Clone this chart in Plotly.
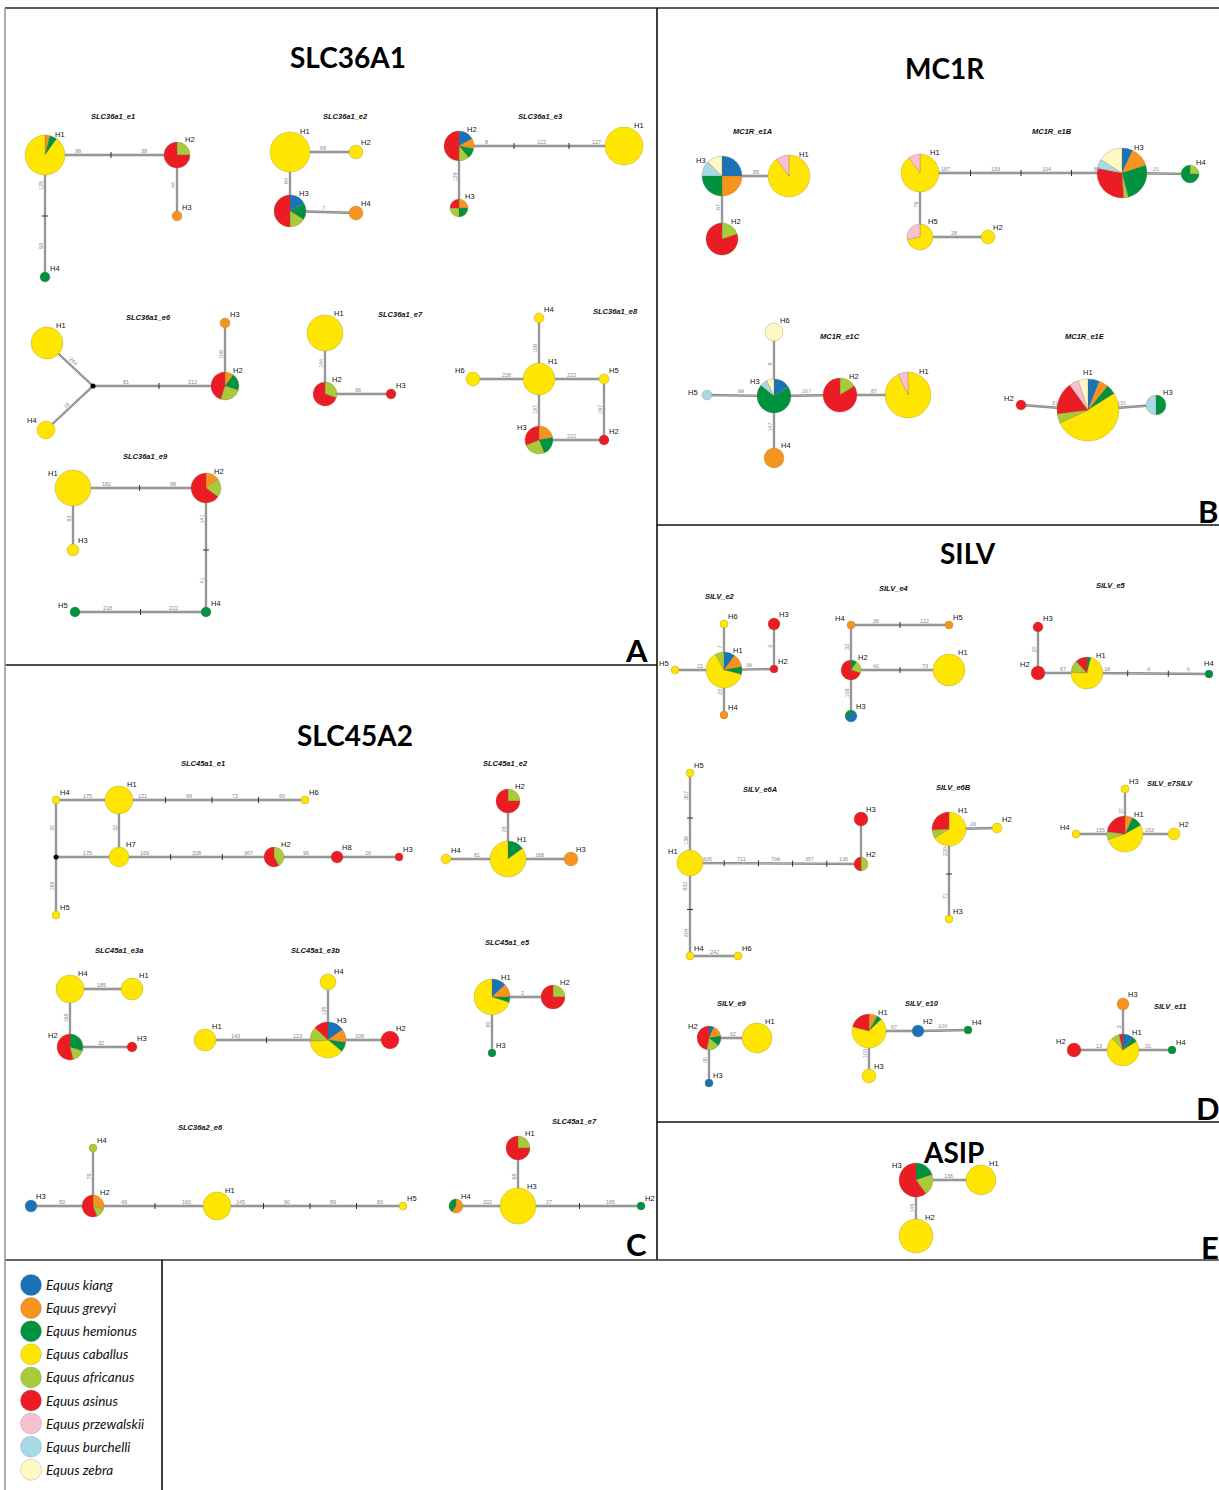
import math
import plotly.graph_objects as go

W, H = 1219, 1490

# ---------------- species ----------------
SPECIES_CODES = ["K", "G", "M", "C", "A", "S", "P", "B", "Z"]
SPECIES_NAMES = ["Equus kiang", "Equus grevyi", "Equus hemionus", "Equus caballus",
                 "Equus africanus", "Equus asinus", "Equus przewalskii",
                 "Equus burchelli", "Equus zebra"]
SPECIES_COLORS = ["#1a72b9", "#f7941d", "#00933f", "#ffe600", "#a8cb3a",
                  "#ec1c24", "#f8bfd1", "#a6dae6", "#fff7c4"]

# ---------------- haplotype compositions (clockwise from 12 o'clock) ----------------
SLC36A1_E1_COMP = {"H1": [("G", .04), ("M", .06), ("C", .90)], "H2": [("A", .25), ("S", .75)],
                   "H3": [("G", 1)], "H4": [("M", 1)]}
SLC36A1_E1_EDGES = [("H1", "H2", ["98", "38"]), ("H2", "H3", ["44"]), ("H1", "H4", ["125", "93"])]

SLC36A1_E2_COMP = {"H1": [("C", 1)], "H2": [("C", 1)],
                   "H3": [("K", .17), ("M", .17), ("A", .16), ("S", .50)], "H4": [("G", 1)]}
SLC36A1_E2_EDGES = [("H1", "H2", ["69"]), ("H1", "H3", ["64"]), ("H3", "H4", ["7"])]

SLC36A1_E3_COMP = {"H1": [("C", 1)], "H2": [("K", .17), ("G", .11), ("M", .11), ("A", .11), ("S", .50)],
                   "H3": [("G", .25), ("M", .25), ("A", .25), ("S", .25)]}
SLC36A1_E3_EDGES = [("H2", "H1", ["8", "122", "127"]), ("H2", "H3", ["129"])]

SLC36A1_E6_COMP = {"H1": [("C", 1)], "H2": [("G", .10), ("M", .20), ("A", .25), ("S", .45)],
                   "H3": [("G", 1)], "H4": [("C", 1)]}
SLC36A1_E6_EDGES = [("H1", "J", ["264"]), ("H4", "J", ["16"]), ("J", "H2", ["81", "212"]), ("H2", "H3", ["106"])]

SLC36A1_E7_COMP = {"H1": [("C", 1)], "H2": [("A", .30), ("S", .70)], "H3": [("S", 1)]}
SLC36A1_E7_EDGES = [("H1", "H2", ["144"]), ("H2", "H3", ["96"])]

SLC36A1_E8_COMP = {"H1": [("C", 1)], "H2": [("S", 1)], "H3": [("G", .22), ("M", .22), ("A", .25), ("S", .31)],
                   "H4": [("C", 1)], "H5": [("C", 1)], "H6": [("C", 1)]}
SLC36A1_E8_EDGES = [("H1", "H4", ["108"]), ("H6", "H1", ["228"]), ("H1", "H5", ["222"]),
                    ("H5", "H2", ["197"]), ("H1", "H3", ["197"]), ("H3", "H2", ["222"])]

SLC36A1_E9_COMP = {"H1": [("C", 1)], "H2": [("G", .15), ("A", .20), ("S", .65)], "H3": [("C", 1)],
                   "H4": [("M", 1)], "H5": [("M", 1)]}
SLC36A1_E9_EDGES = [("H1", "H2", ["182", "98"]), ("H1", "H3", ["83"]), ("H2", "H4", ["141", "41"]),
                    ("H5", "H4", ["218", "222"])]

MC1R_E1A_COMP = {"H1": [("C", .90), ("P", .10)], "H2": [("A", .20), ("S", .80)],
                 "H3": [("K", .25), ("G", .25), ("M", .25), ("B", .125), ("Z", .125)]}
MC1R_E1A_EDGES = [("H3", "H1", ["85"]), ("H3", "H2", ["67"])]

MC1R_E1B_COMP = {"H1": [("C", .90), ("P", .10)], "H2": [("C", 1)],
                 "H3": [("K", .07), ("G", .13), ("M", .26), ("A", .03), ("S", .29), ("B", .06), ("Z", .16)],
                 "H4": [("A", .25), ("M", .75)], "H5": [("C", .72), ("P", .28)]}
MC1R_E1B_EDGES = [("H1", "H3", ["187", "133", "104", "81"]), ("H3", "H4", ["21"]),
                  ("H1", "H5", ["76"]), ("H5", "H2", ["28"])]

MC1R_E1C_COMP = {"H1": [("C", .93), ("P", .07)], "H2": [("A", .16), ("S", .84)],
                 "H3": [("K", .16), ("M", .70), ("B", .07), ("Z", .07)],
                 "H4": [("G", 1)], "H5": [("B", 1)], "H6": [("Z", 1)]}
MC1R_E1C_EDGES = [("H6", "H3", ["8"]), ("H5", "H3", ["88"]), ("H3", "H2", ["167"]),
                  ("H2", "H1", ["87"]), ("H3", "H4", ["147"])]

MC1R_E1E_COMP = {"H1": [("K", .06), ("G", .05), ("M", .05), ("C", .52), ("A", .05), ("S", .17),
                        ("P", .05), ("Z", .05)],
                 "H2": [("S", 1)], "H3": [("M", .50), ("B", .50)]}
MC1R_E1E_EDGES = [("H2", "H1", ["31"]), ("H1", "H3", ["131"])]

SILV_E2_COMP = {"H1": [("K", .10), ("G", .12), ("M", .07), ("C", .63), ("A", .08)], "H2": [("S", 1)],
                "H3": [("S", 1)], "H4": [("G", 1)], "H5": [("C", 1)], "H6": [("C", 1)]}
SILV_E2_EDGES = [("H6", "H1", ["7"]), ("H5", "H1", ["22"]), ("H1", "H2", ["38"]),
                 ("H2", "H3", ["3"]), ("H1", "H4", ["23"])]

SILV_E4_COMP = {"H1": [("C", 1)], "H2": [("M", .10), ("A", .20), ("S", .70)], "H3": [("K", .75), ("M", .25)],
                "H4": [("G", 1)], "H5": [("G", 1)]}
SILV_E4_EDGES = [("H4", "H5", ["36", "122"]), ("H4", "H2", ["32"]), ("H2", "H1", ["41", "73"]),
                 ("H2", "H3", ["108"])]

SILV_E5_COMP = {"H1": [("M", .04), ("C", .72), ("A", .12), ("S", .12)], "H2": [("S", 1)],
                "H3": [("S", 1)], "H4": [("M", 1)]}
SILV_E5_EDGES = [("H3", "H2", ["20"]), ("H2", "H1", ["67"]), ("H1", "H4", ["18", "4", "6"])]

SILV_E6A_COMP = {"H1": [("C", 1)], "H2": [("A", .50), ("S", .50)], "H3": [("S", 1)],
                 "H4": [("C", 1)], "H5": [("C", 1)], "H6": [("C", 1)]}
SILV_E6A_EDGES = [("H5", "H1", ["307", "136"]), ("H1", "H2", ["835", "711", "798", "357", "135"]),
                  ("H3", "H2", []), ("H1", "H4", ["832", "204"]), ("H4", "H6", ["242"])]

SILV_E6B_COMP = {"H1": [("C", .66), ("A", .08), ("S", .26)], "H2": [("C", 1)], "H3": [("C", 1)]}
SILV_E6B_EDGES = [("H1", "H2", ["28"]), ("H1", "H3", ["220", "71"])]

SILV_E7_COMP = {"H1": [("G", .07), ("M", .10), ("C", .53), ("A", .07), ("S", .23)],
                "H2": [("C", 1)], "H3": [("C", 1)], "H4": [("C", 1)]}
SILV_E7_EDGES = [("H3", "H1", ["37"]), ("H4", "H1", ["155"]), ("H1", "H2", ["153"])]

SILV_E9_COMP = {"H1": [("C", 1)], "H2": [("K", .07), ("G", .15), ("M", .14), ("A", .17), ("S", .47)],
                "H3": [("K", 1)]}
SILV_E9_EDGES = [("H2", "H1", ["62"]), ("H2", "H3", ["30"])]

SILV_E10_COMP = {"H1": [("G", .08), ("M", .05), ("C", .66), ("S", .21)], "H2": [("K", 1)],
                 "H3": [("C", 1)], "H4": [("M", 1)]}
SILV_E10_EDGES = [("H1", "H2", ["67"]), ("H2", "H4", ["100"]), ("H1", "H3", ["103"])]

SILV_E11_COMP = {"H1": [("K", .10), ("M", .06), ("C", .72), ("A", .08), ("S", .04)], "H2": [("S", 1)],
                 "H3": [("G", 1)], "H4": [("M", 1)]}
SILV_E11_EDGES = [("H3", "H1", ["3"]), ("H2", "H1", ["13"]), ("H1", "H4", ["31"])]

ASIP_COMP = {"H1": [("C", 1)], "H2": [("C", 1)], "H3": [("M", .20), ("A", .20), ("S", .60)]}
ASIP_EDGES = [("H3", "H1", ["136"]), ("H3", "H2", ["145"])]

SLC45A1_E1_COMP = {"H1": [("C", 1)], "H2": [("A", .42), ("S", .58)], "H3": [("S", 1)], "H4": [("C", 1)],
                   "H5": [("C", 1)], "H6": [("C", 1)], "H7": [("C", 1)], "H8": [("S", 1)]}
SLC45A1_E1_EDGES = [("H4", "H1", ["175"]), ("H1", "H6", ["121", "99", "72", "60"]), ("H4", "J", ["32"]),
                    ("H1", "H7", ["32"]), ("J", "H7", ["175"]), ("H7", "H2", ["169", "328", "367"]),
                    ("H2", "H8", ["96"]), ("H8", "H3", ["26"]), ("J", "H5", ["165"])]

SLC45A1_E2_COMP = {"H1": [("M", .15), ("C", .85)], "H2": [("A", .25), ("S", .75)], "H3": [("G", 1)],
                   "H4": [("C", 1)]}
SLC45A1_E2_EDGES = [("H2", "H1", ["28"]), ("H4", "H1", ["81"]), ("H1", "H3", ["168"])]

SLC45A1_E3A_COMP = {"H1": [("C", 1)], "H2": [("M", .30), ("A", .16), ("S", .54)], "H3": [("S", 1)],
                    "H4": [("C", 1)]}
SLC45A1_E3A_EDGES = [("H4", "H1", ["185"]), ("H4", "H2", ["168"]), ("H2", "H3", ["32"])]

SLC45A1_E3B_COMP = {"H1": [("C", 1)], "H2": [("S", 1)],
                    "H3": [("K", .15), ("G", .12), ("M", .09), ("C", .38), ("A", .13), ("S", .13)],
                    "H4": [("C", 1)]}
SLC45A1_E3B_EDGES = [("H4", "H3", ["135"]), ("H1", "H3", ["143", "123"]), ("H3", "H2", ["108"])]

SLC45A1_E5_COMP = {"H1": [("K", .13), ("G", .12), ("M", .05), ("C", .70)], "H2": [("A", .25), ("S", .75)],
                   "H3": [("M", 1)]}
SLC45A1_E5_EDGES = [("H1", "H2", ["2"]), ("H1", "H3", ["80"])]

SLC36A2_E6_COMP = {"H1": [("C", 1)], "H2": [("G", .30), ("A", .14), ("S", .56)], "H3": [("K", 1)],
                   "H4": [("A", 1)], "H5": [("C", 1)]}
SLC36A2_E6_EDGES = [("H3", "H2", ["50"]), ("H4", "H2", ["79"]), ("H2", "H1", ["49", "160"]),
                    ("H1", "H5", ["145", "90", "89", "83"])]

SLC45A1_E7_COMP = {"H1": [("A", .25), ("S", .75)], "H2": [("M", 1)], "H3": [("C", 1)],
                   "H4": [("G", .60), ("M", .40)]}
SLC45A1_E7_EDGES = [("H1", "H3", ["68"]), ("H4", "H3", ["202"]), ("H3", "H2", ["27", "165"])]

# ---------------- layout (pixel positions: x, y, radius, label side) ----------------
LAYOUT = {
    "SLC36a1_e1": ((113, 116), {"H1": (45, 155, 20, "ne"), "H2": (177, 155, 13, "ne"),
                                "H3": (177, 216, 5, "ne"), "H4": (45, 277, 5, "ne")}),
    "SLC36a1_e2": ((345, 116), {"H1": (290, 152, 20, "ne"), "H2": (356, 152, 7, "ne"),
                                "H3": (290, 211, 16, "ne"), "H4": (356, 213, 7, "ne")}),
    "SLC36a1_e3": ((540, 116), {"H2": (459, 146, 15, "ne"), "H1": (624, 146, 19, "ne"),
                                "H3": (459, 208, 9, "ne")}),
    "SLC36a1_e6": ((148, 317), {"H1": (47, 343, 16, "ne"), "H4": (46, 430, 9, "nw"), "J": (93, 386, 0, ""),
                                "H2": (225, 386, 14, "ne"), "H3": (225, 323, 5, "ne")}),
    "SLC36a1_e7": ((400, 314), {"H1": (325, 333, 18, "ne"), "H2": (325, 394, 12, "ne"),
                                "H3": (391, 394, 5, "ne")}),
    "SLC36a1_e8": ((615, 311), {"H1": (539, 379, 16, "ne"), "H4": (539, 318, 5, "ne"), "H6": (473, 379, 7, "nw"),
                                "H5": (604, 379, 5, "ne"), "H3": (539, 440, 14, "nw"), "H2": (604, 440, 5, "ne")}),
    "SLC36a1_e9": ((145, 456), {"H1": (73, 488, 18, "nw"), "H2": (206, 488, 15, "ne"), "H3": (73, 550, 6, "ne"),
                                "H4": (206, 612, 5, "ne"), "H5": (75, 612, 5, "nw")}),
    "MC1R_e1A": ((752, 131), {"H3": (722, 176, 20, "nw"), "H1": (789, 176, 21, "ne"), "H2": (722, 239, 16, "ne")}),
    "MC1R_e1B": ((1052, 131), {"H1": (920, 173, 19, "ne"), "H3": (1122, 173, 25, "ne"), "H4": (1190, 174, 9, "ne"),
                               "H5": (920, 237, 13, "ne"), "H2": (988, 237, 7, "ne")}),
    "MC1R_e1C": ((840, 336), {"H6": (774, 332, 9, "ne"), "H3": (774, 396, 17, "nw"), "H5": (707, 395, 5, "w"),
                              "H4": (774, 458, 10, "ne"), "H2": (840, 395, 17, "ne"), "H1": (908, 395, 23, "ne")}),
    "MC1R_e1E": ((1085, 336), {"H1": (1088, 410, 31, "n"), "H2": (1021, 405, 5, "nw"), "H3": (1156, 405, 10, "ne")}),
    "SILV_e2": ((720, 596), {"H1": (724, 670, 18, "ne"), "H6": (724, 624, 4, "ne"), "H5": (675, 670, 4, "nw"),
                             "H4": (724, 715, 4, "ne"), "H2": (774, 669, 4, "ne"), "H3": (774, 624, 6, "ne")}),
    "SILV_e4": ((894, 588), {"H4": (851, 625, 4, "nw"), "H5": (949, 625, 4, "ne"), "H2": (851, 670, 10, "ne"),
                             "H1": (949, 670, 16, "ne"), "H3": (851, 716, 6, "ne")}),
    "SILV_e5": ((1111, 585), {"H3": (1038, 627, 5, "ne"), "H2": (1038, 673, 7, "nw"), "H1": (1087, 673, 16, "ne"),
                              "H4": (1209, 674, 4, "n")}),
    "SILV_e6A": ((760, 789), {"H1": (690, 863, 13, "nw"), "H5": (690, 773, 4, "ne"), "H3": (861, 819, 7, "ne"),
                              "H2": (861, 864, 7, "ne"), "H4": (690, 956, 4, "ne"), "H6": (738, 956, 4, "ne")}),
    "SILV_e6B": ((953, 787), {"H1": (949, 829, 17, "ne"), "H2": (997, 828, 5, "ne"), "H3": (949, 919, 4, "ne")}),
    "SILV_e7SILV": ((1170, 783), {"H1": (1125, 834, 18, "ne"), "H3": (1125, 789, 4, "ne"), "H4": (1076, 834, 4, "nw"),
                                  "H2": (1174, 834, 6, "ne")}),
    "SILV_e9": ((732, 1003), {"H2": (709, 1038, 12, "nw"), "H1": (757, 1038, 15, "ne"), "H3": (709, 1083, 4, "ne")}),
    "SILV_e10": ((922, 1003), {"H1": (869, 1031, 17, "ne"), "H2": (918, 1031, 6, "ne"), "H4": (968, 1030, 4, "ne"),
                               "H3": (869, 1076, 7, "ne")}),
    "SILV_e11": ((1170, 1006), {"H3": (1123, 1004, 6, "ne"), "H1": (1123, 1050, 16, "ne"), "H2": (1074, 1050, 7, "nw"),
                                "H4": (1172, 1050, 4, "ne")}),
    "ASIP": (None, {"H3": (916, 1180, 17, "nw"), "H1": (981, 1180, 15, "ne"), "H2": (916, 1236, 17, "ne")}),
    "SLC45a1_e1": ((203, 763), {"H4": (56, 800, 4, "ne"), "H1": (119, 800, 14, "ne"), "H6": (305, 800, 4, "ne"),
                                "J": (56, 857, 0, ""), "H7": (119, 857, 10, "ne"), "H2": (274, 857, 10, "ne"),
                                "H8": (337, 857, 6, "ne"), "H3": (399, 857, 4, "ne"), "H5": (56, 915, 4, "ne")}),
    "SLC45a1_e2": ((505, 763), {"H2": (508, 801, 12, "ne"), "H1": (508, 859, 18, "ne"), "H4": (446, 859, 5, "ne"),
                                "H3": (571, 859, 7, "ne")}),
    "SLC45a1_e3a": ((119, 950), {"H4": (70, 989, 14, "ne"), "H1": (132, 989, 11, "ne"), "H2": (70, 1047, 13, "nw"),
                                 "H3": (132, 1047, 5, "ne")}),
    "SLC45a1_e3b": ((315, 950), {"H4": (328, 982, 8, "ne"), "H3": (328, 1040, 18, "ne"), "H1": (205, 1040, 11, "ne"),
                                 "H2": (390, 1040, 9, "ne")}),
    "SLC45a1_e5": ((507, 942), {"H1": (492, 997, 18, "ne"), "H2": (553, 997, 12, "ne"), "H3": (492, 1053, 4, "ne")}),
    "SLC36a2_e6": ((200, 1127), {"H3": (31, 1206, 6, "ne"), "H2": (93, 1206, 11, "ne"), "H4": (93, 1148, 4, "ne"),
                                 "H1": (217, 1206, 14, "ne"), "H5": (403, 1206, 4, "ne")}),
    "SLC45a1_e7": ((574, 1121), {"H1": (518, 1148, 12, "ne"), "H3": (518, 1206, 18, "ne"), "H4": (456, 1206, 7, "ne"),
                                 "H2": (641, 1206, 4, "ne")}),
}

NETWORKS = [
    ("SLC36a1_e1", SLC36A1_E1_COMP, SLC36A1_E1_EDGES), ("SLC36a1_e2", SLC36A1_E2_COMP, SLC36A1_E2_EDGES),
    ("SLC36a1_e3", SLC36A1_E3_COMP, SLC36A1_E3_EDGES), ("SLC36a1_e6", SLC36A1_E6_COMP, SLC36A1_E6_EDGES),
    ("SLC36a1_e7", SLC36A1_E7_COMP, SLC36A1_E7_EDGES), ("SLC36a1_e8", SLC36A1_E8_COMP, SLC36A1_E8_EDGES),
    ("SLC36a1_e9", SLC36A1_E9_COMP, SLC36A1_E9_EDGES),
    ("MC1R_e1A", MC1R_E1A_COMP, MC1R_E1A_EDGES), ("MC1R_e1B", MC1R_E1B_COMP, MC1R_E1B_EDGES),
    ("MC1R_e1C", MC1R_E1C_COMP, MC1R_E1C_EDGES), ("MC1R_e1E", MC1R_E1E_COMP, MC1R_E1E_EDGES),
    ("SILV_e2", SILV_E2_COMP, SILV_E2_EDGES), ("SILV_e4", SILV_E4_COMP, SILV_E4_EDGES),
    ("SILV_e5", SILV_E5_COMP, SILV_E5_EDGES), ("SILV_e6A", SILV_E6A_COMP, SILV_E6A_EDGES),
    ("SILV_e6B", SILV_E6B_COMP, SILV_E6B_EDGES), ("SILV_e7SILV", SILV_E7_COMP, SILV_E7_EDGES),
    ("SILV_e9", SILV_E9_COMP, SILV_E9_EDGES), ("SILV_e10", SILV_E10_COMP, SILV_E10_EDGES),
    ("SILV_e11", SILV_E11_COMP, SILV_E11_EDGES), ("ASIP", ASIP_COMP, ASIP_EDGES),
    ("SLC45a1_e1", SLC45A1_E1_COMP, SLC45A1_E1_EDGES), ("SLC45a1_e2", SLC45A1_E2_COMP, SLC45A1_E2_EDGES),
    ("SLC45a1_e3a", SLC45A1_E3A_COMP, SLC45A1_E3A_EDGES), ("SLC45a1_e3b", SLC45A1_E3B_COMP, SLC45A1_E3B_EDGES),
    ("SLC45a1_e5", SLC45A1_E5_COMP, SLC45A1_E5_EDGES), ("SLC36a2_e6", SLC36A2_E6_COMP, SLC36A2_E6_EDGES),
    ("SLC45a1_e7", SLC45A1_E7_COMP, SLC45A1_E7_EDGES),
]

GENE_TITLES = [("SLC36A1", 348, 57), ("MC1R", 945, 68), ("SILV", 968, 553), ("SLC45A2", 355, 735), ("ASIP", 953, 1152)]
PANEL_LETTERS = [("A", 636, 650), ("B", 1208, 511), ("C", 636, 1244), ("D", 1208, 1108), ("E", 1210, 1247)]

# ---------------- build figure ----------------
COLOR = dict(zip(SPECIES_CODES, SPECIES_COLORS))
NAME = dict(zip(SPECIES_CODES, SPECIES_NAMES))

fig = go.Figure()
ann = []

line_x, line_y, tick_x, tick_y, junc_x, junc_y = [], [], [], [], [], []


def label_xy(cx, cy, r, pos):
    if pos == "nw":
        return cx - 0.6 * r - 9, cy - 0.6 * r - 4
    if pos == "w":
        return cx - r - 9, cy - 3
    if pos == "n":
        return cx, cy - r - 7
    return cx + 0.35 * r + 8, cy - 0.85 * r - 4


for name, comp, edges in NETWORKS:
    tpos, nodes = LAYOUT[name]
    if tpos is not None:
        ann.append(dict(x=tpos[0], y=tpos[1], text="<b><i>%s</i></b>" % name, showarrow=False,
                        font=dict(family="Liberation Sans", size=7.5, color="#111")))
    for a, b, labels in edges:
        x0, y0 = nodes[a][0], nodes[a][1]
        x1, y1 = nodes[b][0], nodes[b][1]
        line_x += [x0, x1, None]
        line_y += [y0, y1, None]
        dx, dy = x1 - x0, y1 - y0
        L = math.hypot(dx, dy)
        ux, uy = dx / L, dy / L
        ang = math.degrees(math.atan2(dy, dx))
        if ang >= 90:
            ang -= 180
        if ang < -90:
            ang += 180
        th = math.radians(ang)
        nx, ny = math.sin(th), -math.cos(th)
        k = len(labels)
        for i in range(1, k):
            tx, ty = x0 + dx * i / k, y0 + dy * i / k
            tick_x += [tx - uy * 3, tx + uy * 3, None]
            tick_y += [ty + ux * 3, ty - ux * 3, None]
        for i, lab in enumerate(labels):
            mx, my = x0 + dx * (i + 0.5) / k, y0 + dy * (i + 0.5) / k
            ann.append(dict(x=mx + nx * 4.5, y=my + ny * 4.5, text=lab, showarrow=False, textangle=ang,
                            font=dict(family="Liberation Sans", size=5.5, color="#8a8a8a")))
    for hap, (cx, cy, r, pos) in nodes.items():
        if hap == "J":
            junc_x.append(cx)
            junc_y.append(cy)
            continue
        parts = comp[hap]
        fig.add_trace(go.Pie(
            values=[p[1] for p in parts], labels=[NAME[p[0]] for p in parts],
            marker=dict(colors=[COLOR[p[0]] for p in parts], line=dict(color="rgba(120,110,60,0.45)", width=0.6)),
            sort=False, direction="clockwise", rotation=0, textinfo="none", showlegend=False,
            name="%s %s" % (name, hap),
            domain=dict(x=[(cx - r) / W, (cx + r) / W], y=[1 - (cy + r) / H, 1 - (cy - r) / H])))
        lx, ly = label_xy(cx, cy, r, pos)
        ann.append(dict(x=lx, y=ly, text=hap, showarrow=False,
                        font=dict(family="Liberation Sans", size=7.5, color="#111")))

fig.add_trace(go.Scatter(x=line_x, y=line_y, mode="lines", line=dict(color="#7f7f7f", width=2.3),
                         hoverinfo="skip", showlegend=False))
fig.add_trace(go.Scatter(x=line_x, y=line_y, mode="lines", line=dict(color="#c4c4c4", width=0.7),
                         hoverinfo="skip", showlegend=False))
fig.add_trace(go.Scatter(x=tick_x, y=tick_y, mode="lines", line=dict(color="#333", width=1),
                         hoverinfo="skip", showlegend=False))
fig.add_trace(go.Scatter(x=junc_x, y=junc_y, mode="markers", marker=dict(color="black", size=5),
                         hoverinfo="skip", showlegend=False))

# legend
leg_y = [1285 + i * 23.1 for i in range(len(SPECIES_NAMES))]
fig.add_trace(go.Scatter(x=[31] * len(SPECIES_NAMES), y=leg_y, mode="markers",
                         marker=dict(color=SPECIES_COLORS, size=21, line=dict(color="rgba(80,80,80,0.35)", width=0.6)),
                         text=SPECIES_NAMES, hoverinfo="text", showlegend=False))
for nm, yy in zip(SPECIES_NAMES, leg_y):
    ann.append(dict(x=44, y=yy, text="<i>%s</i>" % nm, showarrow=False, xanchor="left",
                    font=dict(family="Lato", size=13.5, color="#111")))

for t, x, y in GENE_TITLES:
    ann.append(dict(x=x, y=y, text="<b>%s</b>" % t, showarrow=False,
                    font=dict(family="Lato", size=28, color="#000")))
for t, x, y in PANEL_LETTERS:
    ann.append(dict(x=x, y=y, text="<b>%s</b>" % t, showarrow=False,
                    font=dict(family="Lato", size=31, color="#000")))

BORDERS = [((5, 8), (1219, 8), "#222"), ((657, 8), (657, 1260), "#111"), ((5, 665), (657, 665), "#111"),
           ((657, 525), (1219, 525), "#111"), ((657, 1122), (1219, 1122), "#111"),
           ((5, 1260), (1219, 1260), "#333"), ((162, 1260), (162, 1490), "#111"), ((5, 8), (5, 1490), "#999")]
shapes = [dict(type="line", x0=a[0], y0=a[1], x1=b[0], y1=b[1], xref="x", yref="y",
               line=dict(color=c, width=1.6)) for a, b, c in BORDERS]

fig.update_layout(
    width=W, height=H, margin=dict(l=0, r=0, t=0, b=0), paper_bgcolor="white", plot_bgcolor="white",
    xaxis=dict(range=[0, W], visible=False, fixedrange=True, domain=[0, 1]),
    yaxis=dict(range=[H, 0], visible=False, fixedrange=True, domain=[0, 1]),
    annotations=ann, shapes=shapes, showlegend=False,
)

fig.write_html("out.html", config={"displayModeBar": False},
               post_script="document.body.style.margin='0px';document.body.style.padding='0px';"
                           "document.body.style.overflow='hidden';")
